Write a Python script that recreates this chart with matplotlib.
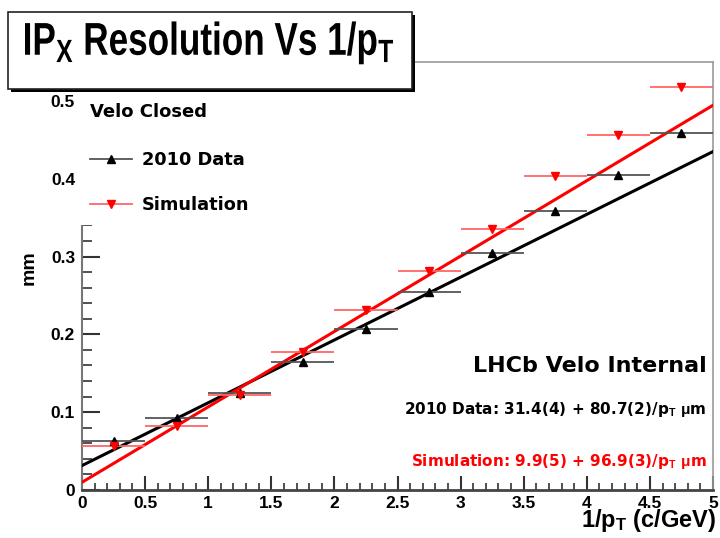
import numpy as np
import matplotlib
matplotlib.use("Agg")
import matplotlib.pyplot as plt
from matplotlib.patches import Rectangle, PathPatch
from matplotlib.lines import Line2D
from matplotlib.textpath import TextPath
from matplotlib.font_manager import FontProperties
from matplotlib.transforms import Affine2D
from matplotlib.ticker import MultipleLocator, FuncFormatter

plt.rcParams['font.family'] = ['Liberation Sans', 'DejaVu Sans']
plt.rcParams['font.weight'] = 'bold'
plt.rcParams['mathtext.fontset'] = 'custom'
plt.rcParams['mathtext.rm'] = 'Liberation Sans:bold'
plt.rcParams['mathtext.it'] = 'Liberation Sans:bold'
plt.rcParams['mathtext.bf'] = 'Liberation Sans:bold'

# bin centres in 1/pT (c/GeV), half-width 0.25
inv_pt = [0.25, 0.75, 1.25, 1.75, 2.25, 2.75, 3.25, 3.75, 4.25, 4.75]
bin_half = 0.25
res_data = [0.063, 0.093, 0.125, 0.165, 0.207, 0.255, 0.304, 0.359, 0.405, 0.459]
res_sim = [0.057, 0.082, 0.122, 0.177, 0.231, 0.282, 0.336, 0.403, 0.456, 0.518]

# fit results in um: const + slope/pT
fit_data = (31.4, 80.7)
fit_sim = (9.9, 96.9)

W, H = 720, 538
fig = plt.figure(figsize=(W/100, H/100), dpi=100)
ax = fig.add_axes([82/W, 1-490/H, 631/W, 428/H])

xx = np.linspace(0, 5, 50)
ax.plot(xx, (fit_data[0] + fit_data[1]*xx)/1000, color='black', lw=2.2, zorder=3)
ax.plot(xx, (fit_sim[0] + fit_sim[1]*xx)/1000, color='#ff0000', lw=2.2, zorder=3)

ax.errorbar(inv_pt, res_data, xerr=bin_half, fmt='^', color='black', ms=6,
            ecolor='#555555', elinewidth=1.3, capsize=0, zorder=4)
ax.errorbar(inv_pt, res_sim, xerr=bin_half, fmt='v', color='#ff0000', ms=6,
            ecolor='#ff6666', elinewidth=1.3, capsize=0, zorder=4)

ax.set_xlim(0, 5)
ax.set_ylim(0, 0.55)
ax.xaxis.set_major_locator(MultipleLocator(0.5))
ax.xaxis.set_minor_locator(MultipleLocator(0.1))
ax.yaxis.set_major_locator(MultipleLocator(0.1))
ax.yaxis.set_minor_locator(MultipleLocator(0.02))
ax.tick_params(which='both', direction='in', top=False, right=False,
               labelsize=12.5, color='#333333')
ax.tick_params(axis='x', which='major', length=10, width=1.5, pad=4)
ax.tick_params(axis='x', which='minor', length=5, width=1.2)
ax.tick_params(axis='y', which='major', length=13, width=1.5, pad=5)
ax.tick_params(axis='y', which='minor', length=7, width=1.2)
fmt = FuncFormatter(lambda v, p: '0' if abs(v) < 1e-9 else '%g' % v)
ax.xaxis.set_major_formatter(fmt)
ax.yaxis.set_major_formatter(fmt)

for s in ['top', 'right']:
    ax.spines[s].set_color('#999999')
    ax.spines[s].set_linewidth(1.2)
ax.spines['bottom'].set_color('#444444')
ax.spines['bottom'].set_linewidth(2)
ax.spines['left'].set_color('#777777')
ax.spines['left'].set_linewidth(1.5)

ax.set_xlabel(r'1/p$_{\mathrm{T}}$ (c/GeV)', fontsize=17, fontweight='bold')
ax.xaxis.set_label_coords(1.005, -0.04)
ax.xaxis.label.set_horizontalalignment('right')
ax.set_ylabel('mm', fontsize=14, fontweight='bold')
ax.yaxis.set_label_coords(-0.07, 0.52)

# legend entries: error line with marker on top
h_data = Line2D([], [], color='#555555', lw=1.3, marker='^', ms=6,
                mfc='black', mec='black')
h_sim = Line2D([], [], color='#ff6666', lw=1.3, marker='v', ms=6,
               mfc='#ff0000', mec='#ff0000')
leg = ax.legend([h_data, h_sim], ['2010 Data', 'Simulation'],
                loc='upper left', bbox_to_anchor=(-0.004, 0.93), title='Velo Closed',
                frameon=True, prop={'family': 'DejaVu Sans', 'weight': 'bold', 'size': 12.8},
                title_fontproperties={'family': 'DejaVu Sans', 'weight': 'bold', 'size': 13},
                handlelength=2.35, handletextpad=0.55, labelspacing=1.5,
                borderpad=0.6, borderaxespad=0, alignment='left', fancybox=False)
leg.get_frame().set_facecolor('white')
leg.get_frame().set_edgecolor('none')
leg.get_frame().set_alpha(1)
leg._legend_box.sep = 22
leg.set_zorder(6)

dv = ['DejaVu Sans']
ax.text(0.99, 0.29, 'LHCb Velo Internal', transform=ax.transAxes,
        ha='right', va='center', fontsize=16, fontweight='bold', family=dv)
ax.text(0.99, 0.187, r'2010 Data: %.1f(4) + %.1f(2)/p$_{\mathrm{T}}$ $\mu$m' % fit_data,
        transform=ax.transAxes, ha='right', va='center', fontsize=11,
        fontweight='bold', family=dv)
ax.text(0.99, 0.066, r'Simulation: %.1f(5) + %.1f(3)/p$_{\mathrm{T}}$ $\mu$m' % fit_sim,
        transform=ax.transAxes, ha='right', va='center', fontsize=11,
        fontweight='bold', family=dv, color='#ff0000')

# title box with drop shadow
fig.patches.append(Rectangle((11/W, 1-92/H), 404/W, 77/H, transform=fig.transFigure,
                             facecolor='black', edgecolor='none', zorder=10))
fig.patches.append(Rectangle((8/W, 1-89/H), 404/W, 77/H, transform=fig.transFigure,
                             facecolor='white', edgecolor='#222222', lw=1.2, zorder=11))

# condensed bold title drawn as a path
tp = TextPath((0, 0), r'IP$_{\mathrm{X}}$ Resolution Vs 1/p$_{\mathrm{T}}$', size=46,
              prop=FontProperties(family='Liberation Sans', weight='bold'))
ext = tp.get_extents()
sx = 368 / ext.width
tr = Affine2D().translate(-ext.x0, 0).scale(sx, 1).translate(25, H - 55)
fig.patches.append(PathPatch(tp, transform=tr, facecolor='black', edgecolor='none',
                             zorder=12))

fig.savefig('out.png', dpi=100)
